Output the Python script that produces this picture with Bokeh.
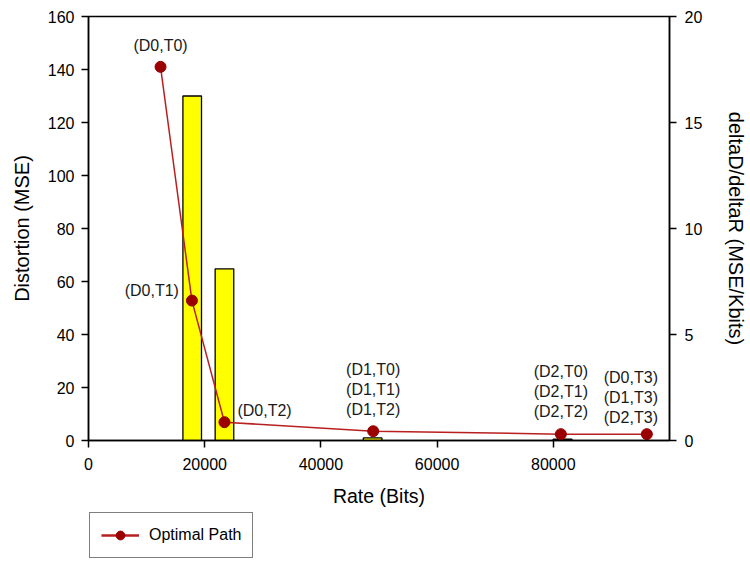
from bokeh.plotting import figure
from bokeh.layouts import column
from bokeh.models import Range1d, LinearAxis, FixedTicker, BasicTickFormatter, Legend, LegendItem, ColumnDataSource
from bokeh.core.properties import value
from bokeh.embed import file_html
from bokeh.resources import INLINE

# Optimal path (rate in bits, distortion in MSE)
path_rate = [12400, 17800, 23400, 49000, 81300, 96100]
path_dist = [141, 52.8, 6.9, 3.5, 2.4, 2.4]
path_labels = ["(D0,T0)", "(D0,T1)", "(D0,T2)",
               "(D1,T0)\n(D1,T1)\n(D1,T2)",
               "(D2,T0)\n(D2,T1)\n(D2,T2)",
               "(D0,T3)\n(D1,T3)\n(D2,T3)"]

# Slope bars (deltaD/deltaR, MSE/Kbits)
bar_rate = [17850, 23400, 48900, 81600]
bar_slope = [16.25, 8.1, 0.12, 0.06]
bar_width = 3200

x_ticks = [0, 20000, 40000, 60000, 80000]
left_ticks = [0, 20, 40, 60, 80, 100, 120, 140, 160]
right_ticks = [0, 5, 10, 15, 20]

FONT = "Liberation Sans"
LINE_C = "#b82020"
MARK_C = "#9a0000"

p = figure(width=750, height=512, output_backend="svg", toolbar_location=None,
           x_range=Range1d(0, 100000), y_range=Range1d(0, 160),
           min_border_left=88, min_border_top=16, min_border_right=74, min_border_bottom=72)
p.extra_y_ranges = {"right": Range1d(0, 20)}
p.xgrid.visible = False
p.ygrid.visible = False
p.outline_line_color = "black"
p.outline_line_width = 1.5
p.background_fill_color = "white"
p.border_fill_color = "white"

p.xaxis.ticker = FixedTicker(ticks=x_ticks)
p.xaxis.formatter = BasicTickFormatter(use_scientific=False)
p.yaxis.ticker = FixedTicker(ticks=left_ticks)
p.xaxis.axis_label = "Rate (Bits)"
p.yaxis.axis_label = "Distortion (MSE)"

right_axis = LinearAxis(y_range_name="right", ticker=FixedTicker(ticks=right_ticks),
                        axis_label="deltaD/deltaR (MSE/Kbits)")
p.add_layout(right_axis, "right")

for ax in [p.xaxis[0], p.yaxis[0], right_axis]:
    ax.axis_line_color = "black"
    ax.axis_line_width = 1.5
    ax.major_tick_line_color = "black"
    ax.major_tick_line_width = 1.5
    ax.major_tick_out = 7
    ax.major_tick_in = 0
    ax.minor_tick_line_color = None
    ax.major_label_text_font = FONT
    ax.major_label_text_font_size = "16px"
    ax.major_label_text_color = "black"
    ax.axis_label_text_font = FONT
    ax.axis_label_text_font_size = "20px"
    ax.axis_label_text_font_style = "normal"
    ax.axis_label_text_color = "black"
p.xaxis[0].axis_label_text_font_size = "19.5px"
p.xaxis[0].axis_label_standoff = 12
p.xaxis[0].major_label_standoff = 10
p.yaxis[0].axis_label_standoff = 12
p.yaxis[0].major_label_standoff = 7
right_axis.axis_label_standoff = 20
right_axis.major_label_standoff = 8

# bars (right axis)
p.vbar(x=bar_rate, top=bar_slope, width=bar_width, bottom=0, y_range_name="right",
       fill_color="#ffff00", line_color="black", line_width=1.3)

# optimal path
ln = p.line(path_rate, path_dist, line_color=LINE_C, line_width=1.5)
sc = p.scatter(path_rate, path_dist, size=11, fill_color=MARK_C, line_color=MARK_C)

# point labels
src = ColumnDataSource(dict(
    x=path_rate, y=path_dist, t=path_labels,
    xo=[0, -13, 13, 0, 0, -16],
    yo=[-13, -10, -12, -13, -14, -8],
    ax=["center", "right", "left", "center", "center", "center"],
    ay=["bottom", "middle", "middle", "bottom", "bottom", "bottom"],
))
p.text(x="x", y="y", text="t", x_offset="xo", y_offset="yo", text_align="ax",
       text_baseline="ay", source=src, text_font=value(FONT), text_font_size="16px",
       text_color="#1a1a1a", text_line_height=1.17)

# legend panel below the chart (proxy renderers carry only the legend styling)
nan = float("nan")
leg = figure(width=750, height=49, output_backend="svg", toolbar_location=None,
             x_axis_type=None, y_axis_type=None, x_range=Range1d(0, 1), y_range=Range1d(0, 1),
             min_border=0, min_border_left=88, min_border_right=74, outline_line_color=None)
leg.xgrid.visible = False
leg.ygrid.visible = False
lg_ln = leg.line(x=[nan, nan], y=[nan, nan], line_color=LINE_C, line_width=2.5)
lg_sc = leg.scatter(x=[nan], y=[nan], size=11, fill_color=MARK_C, line_color=MARK_C)
legend = Legend(items=[LegendItem(label="Optimal Path", renderers=[lg_ln, lg_sc])],
                location=(1, 3), orientation="horizontal",
                border_line_color="black", border_line_width=1.2,
                label_text_font=FONT, label_text_font_size="16px",
                label_text_color="black", label_standoff=10,
                glyph_width=38, glyph_height=22, label_height=22,
                padding=11, margin=0, spacing=0)
leg.add_layout(legend, "center")

layout = column(p, leg, spacing=0)
open("out.html", "w").write(file_html(layout, INLINE))
